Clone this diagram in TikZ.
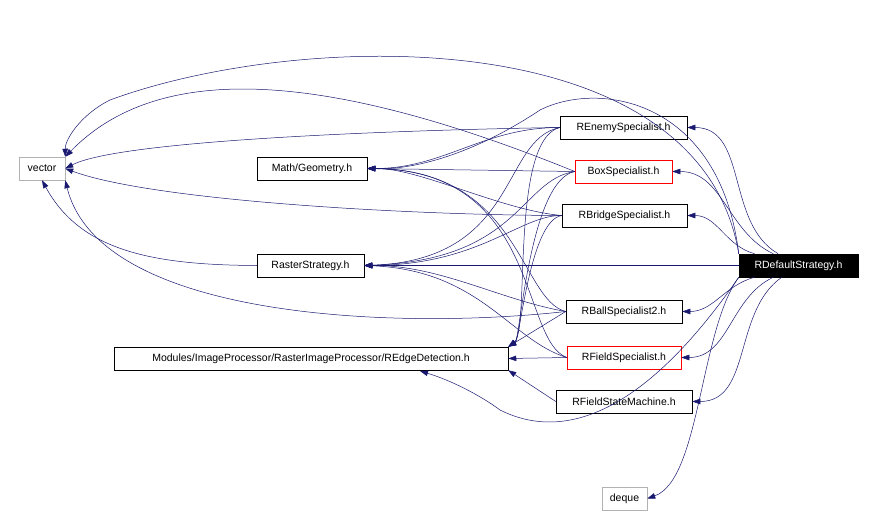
\documentclass[tikz,border=0pt]{standalone}
\usepackage{fontspec}
\setmainfont{Liberation Sans}
\usetikzlibrary{arrows.meta}
\begin{document}
\begin{tikzpicture}[x=1pt,y=-1pt,
 n/.style={draw=black,fill=white,inner sep=0pt,minimum height=23pt,font=\fontsize{10.5}{12}\selectfont,line width=0.5pt},
 g/.style={n,draw=gray!60},
 r/.style={n,draw=red},
 e/.style={draw={rgb,255:red,25;green,25;blue,112},line width=0.5pt,-{Triangle[length=8pt,width=5.5pt]}}]
\useasboundingbox (0,0) rectangle (873,516);
\node[g,minimum width=46pt] (vec) at (42,168.5) {vector};
\node[n,minimum width=110pt] (math) at (312,168.5) {Math/Geometry.h};
\node[n,minimum width=107pt] (ras) at (310.5,265.5) {RasterStrategy.h};
\node[n,minimum width=394pt] (edge) at (311,358.5) {Modules/ImageProcessor/RasterImageProcessor/REdgeDetection.h};
\node[n,minimum width=127pt] (ren) at (623.5,127.5) {REnemySpecialist.h};
\node[r,minimum width=97pt] (box) at (623.5,171.5) {BoxSpecialist.h};
\node[n,minimum width=125pt] (bri) at (624.5,215.5) {RBridgeSpecialist.h};
\node[n,fill=black,text=white,minimum width=119pt] (def) at (798.5,265.5) {RDefaultStrategy.h};
\node[n,minimum width=116pt] (ball) at (624,311.5) {RBallSpecialist2.h};
\node[r,minimum width=114pt] (fld) at (624,357.5) {RFieldSpecialist.h};
\node[n,minimum width=136pt] (fsm) at (624,401.5) {RFieldStateMachine.h};
\node[g,minimum width=45pt] (deq) at (624.5,498.5) {deque};
% from RDefaultStrategy
\draw[e] (def) to[out=150,in=0] (ren.east);
\draw[e] (def) to[out=155,in=0] (box.east);
\draw[e] (def) to[out=165,in=0] (bri.east);
\draw[e] (def) -- (ras);
\draw[e] (def) to[out=195,in=0] (ball.east);
\draw[e] (def) to[out=205,in=0] (fld.east);
\draw[e] (def) to[out=215,in=0] (fsm.east);
\draw[e] (def.north west) .. controls (700,20) and (300,30) .. (110,100) .. controls (80,115) and (65,140) .. (vec.north east);
\draw[e] (def.south west) .. controls (640,420) and (560,440) .. (500,410) .. controls (480,395) and (450,380) .. (420,371);
\draw[e] (def.south west) .. controls (700,330) and (700,480) .. (deq.east);
\draw[e] (def.north west) .. controls (720,100) and (600,80) .. (540,110) .. controls (480,150) and (420,170) .. (math.east);
% REnemy
\draw[e] (ren.west) .. controls (400,130) and (120,140) .. (vec.east);
\draw[e] (ren.west) to[out=180,in=0] (math.east);
\draw[e] (ren.west) .. controls (500,140) and (520,260) .. (ras.east);
\draw[e] (ren.west) .. controls (510,140) and (530,330) .. (edge.north east);
% Box
\draw[e] (box.west) .. controls (300,60) and (150,70) .. (vec.north east);
\draw[e] (box.west) -- (math.east);
\draw[e] (box.west) .. controls (520,180) and (520,260) .. (ras.east);
\draw[e] (box.west) .. controls (530,180) and (520,340) .. (edge.north east);
% Bridge
\draw[e] (bri.west) .. controls (400,215) and (150,200) .. (vec.east);
\draw[e] (bri.west) .. controls (500,210) and (420,168) .. (math.east);
\draw[e] (bri.west) .. controls (520,215) and (480,265) .. (ras.east);
\draw[e] (bri.west) .. controls (530,220) and (520,340) .. (edge.north east);
% Ball
\draw[e] (ball.west) .. controls (400,330) and (100,320) .. (vec.south east);
\draw[e] (ball.west) .. controls (520,300) and (520,170) .. (math.east);
\draw[e] (ball.west) .. controls (500,300) and (440,265) .. (ras.east);
\draw[e] (ball.west) -- (edge.north east);
% Field
\draw[e] (fld.west) .. controls (520,340) and (540,170) .. (math.east);
\draw[e] (fld.west) .. controls (510,340) and (480,270) .. (ras.east);
\draw[e] (fld.west) -- (edge.east);
% FSM
\draw[e] (fsm.west) -- (edge.south east);
% Raster
\draw[e] (ras.west) .. controls (150,265) and (80,250) .. (vec.south);
\end{tikzpicture}
\end{document}
